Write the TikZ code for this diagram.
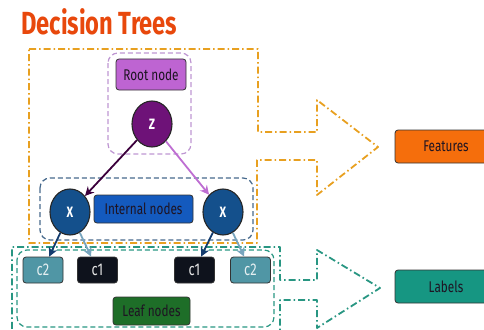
\documentclass[tikz,border=0pt]{standalone}
\usepackage{fontspec}
\setmainfont{Fira Sans}[FakeStretch=0.76]
\newfontfamily\titlefont{Fira Sans}[FakeStretch=0.74]
\usetikzlibrary{arrows.meta}
\definecolor{ttl}{RGB}{232,72,12}
\definecolor{orng}{RGB}{232,160,32}
\definecolor{teal1}{RGB}{40,150,130}
\definecolor{purpd}{RGB}{190,150,210}
\definecolor{rootf}{RGB}{190,100,210}
\definecolor{zf}{RGB}{110,18,120}
\definecolor{intd}{RGB}{70,105,140}
\definecolor{intf}{RGB}{20,90,190}
\definecolor{xf}{RGB}{20,80,140}
\definecolor{c2f}{RGB}{80,150,165}
\definecolor{c1f}{RGB}{14,18,28}
\definecolor{leaff}{RGB}{30,110,40}
\definecolor{featf}{RGB}{245,110,12}
\definecolor{labf}{RGB}{22,150,130}
\definecolor{txt}{RGB}{30,20,35}
\definecolor{darkarr}{RGB}{60,0,60}
\definecolor{lightarr}{RGB}{190,110,210}
\definecolor{dblue}{RGB}{20,60,110}
\definecolor{lblue}{RGB}{120,165,190}
\tikzset{
  lbox/.style={draw=black!80, line width=0.8pt, rounded corners=3pt, inner sep=0pt, font=\fontsize{15.5}{17}\selectfont, text=txt},
  circ/.style={ellipse, draw=black!85, line width=1.1pt, minimum width=40pt, minimum height=46pt, inner sep=0pt, text=white, font=\bfseries\fontsize{15}{17}\selectfont},
  leafbox/.style={lbox, minimum width=40pt, minimum height=26pt, font=\fontsize{17}{19}\selectfont},
  dd/.style={dash pattern=on 7pt off 3pt on 1.5pt off 3pt, line width=1.8pt},
  grp/.style={dashed, dash pattern=on 5pt off 3pt, line width=1.2pt, rounded corners=10pt},
  arr/.style={line width=1.8pt, -{Stealth[length=9pt,width=9pt]}}
}
\usetikzlibrary{shapes.geometric}
\begin{document}
\begin{tikzpicture}[x=1pt,y=-1pt]
\useasboundingbox (0,0) rectangle (484,329);
\clip (0,0) rectangle (484,329);
% title
\node[anchor=base west, inner sep=0pt, text=ttl, font=\titlefont\bfseries\fontsize{32}{34}\selectfont] (title) at (21,35) {Decision Trees};
% big arrow outlines
\draw[orng, dd, line join=round] (29,49) -- (258,49) -- (258,132) -- (317,132) -- (317,100) -- (378,147) -- (317,195) -- (317,160) -- (257,160) -- (257,243) -- (29,243) -- cycle;
\draw[teal1, dd, line join=round] (280,340) -- (280,300) -- (317,300) -- (317,328) -- (380,288) -- (317,250) -- (317,280) -- (280,280) -- (280,247) -- (12,247) -- (12,340);
% group boxes
\draw[purpd, grp] (108,53) rectangle (191,154);
\draw[intd, grp] (40,178) rectangle (253,240);
\draw[teal1, grp] (17,250) rectangle (274,327);
% nodes
\node[lbox, fill=rootf, minimum width=70pt, minimum height=31pt] (root) at (151,74.5) {Root node};
\node[circ, fill=zf] (z) at (152,124) {Z};
\node[circ, fill=xf] (xl) at (70,212) {X};
\node[circ, fill=xf] (xr) at (223,212) {X};
\node[lbox, fill=intf, minimum width=99pt, minimum height=28pt] (int) at (143.5,209) {Internal nodes};
\node[leafbox, fill=c2f, text=white!85!c2f] (c2l) at (43,270) {c2};
\node[leafbox, fill=c1f, text=white!90!black] (c1l) at (97.5,270) {c1};
\node[leafbox, fill=c1f, text=white!90!black] (c1r) at (194.5,270) {c1};
\node[leafbox, fill=c2f, text=white!85!c2f] (c2r) at (250.5,270) {c2};
\node[lbox, fill=leaff, minimum width=77pt, minimum height=28pt] (leaf) at (151.5,311) {Leaf nodes};
\node[lbox, fill=featf, minimum width=102pt, minimum height=33pt] (feat) at (446,146.5) {Features};
\node[lbox, fill=labf, minimum width=102pt, minimum height=33pt] (lab) at (446,286.5) {Labels};
% connectors
\draw[arr, darkarr] (z) -- (xl);
\draw[arr, lightarr] (z) -- (xr);
\draw[arr, dblue] (xl) -- (c2l);
\draw[arr, lblue] (xl) -- (c1l);
\draw[arr, dblue] (xr) -- (c1r);
\draw[arr, lblue] (xr) -- (c2r);
\end{tikzpicture}
\end{document}
